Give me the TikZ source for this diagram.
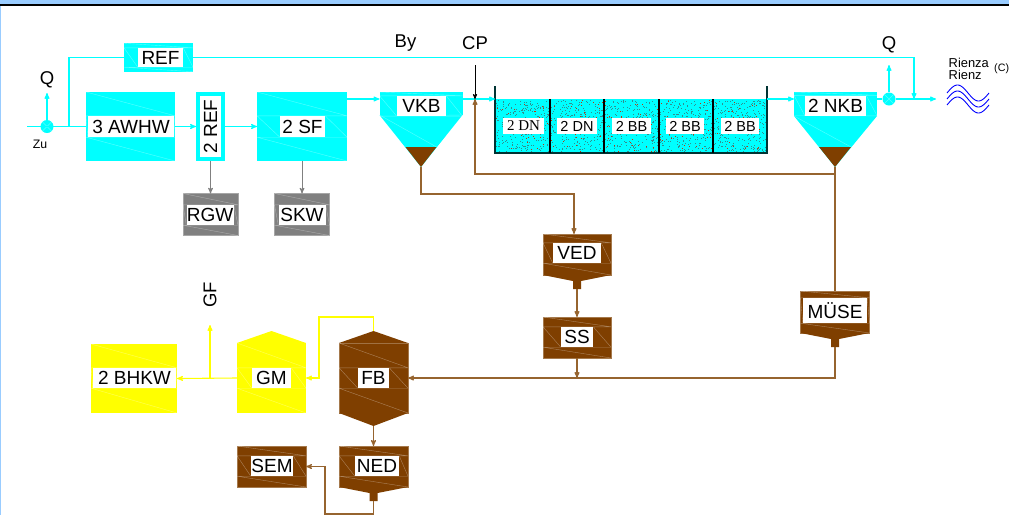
\documentclass[tikz,border=0pt]{standalone}
\usepackage{fontspec}
\setmainfont{Liberation Sans}
\newfontfamily\serifface{Liberation Serif}
\usetikzlibrary{arrows,calc}
\definecolor{frameblue}{HTML}{99CCFF}
\definecolor{water}{HTML}{00FFFF}
\definecolor{gas}{HTML}{FFFF00}
\definecolor{sludge}{HTML}{7F3F00}
\definecolor{sludgeline}{HTML}{96642F}
\definecolor{speckteal}{HTML}{2F8F8F}
\definecolor{speckred}{HTML}{C83200}
\definecolor{wall}{HTML}{003333}
\tikzstyle{block} = [rectangle, inner sep=0pt, outer sep=0pt]
\tikzstyle{waterblock} = [block, fill=water]
\tikzstyle{gasblock} = [block, fill=gas]
\tikzstyle{greyblock} = [block, fill=gray, draw=gray!70, line width=.5pt]
\tikzstyle{sludgeblock} = [block, fill=sludge, draw=sludge!70!white, line width=.5pt]
\tikzstyle{tag} = [rectangle, fill=white, inner sep=0pt, minimum height=20pt, font=\fontsize{19}{19}\selectfont]
\tikzstyle{basintag} = [tag, minimum height=16pt, font=\fontsize{14.5}{15}\selectfont]
\tikzstyle{caption} = [inner sep=0pt, font=\fontsize{18.5}{19}\selectfont]
\tikzstyle{junction} = [circle, fill=water, inner sep=0pt, minimum size=13pt]
\tikzstyle{hatchline} = [white, opacity=.35, line width=.4pt]
\tikzstyle{waterline} = [water, line width=1.1pt]
\tikzstyle{gasline} = [gas, line width=1.1pt]
\tikzstyle{greyline} = [gray, line width=1pt]
\tikzstyle{sludgepipe} = [sludgeline, line width=1.1pt]
% faint construction lines of a box, around its tag
\newcommand{\hatchbox}[2]{
  \draw[hatchline] (#1.west |- #2.north) -- (#1.east |- #2.north)
                   (#1.west |- #2.south) -- (#1.east |- #2.south)
                   (#1.north west) -- (#1.east |- #2.north)
                   (#1.west |- #2.south) -- (#1.south east)
                   (#1.west |- #2.north) -- (#2.south west)
                   (#2.north east) -- (#1.east |- #2.south);
}
% hopper bottom with its outlet
\newcommand{\hopperfoot}[1]{
  \fill[sludge] (#1.south west) -- ($(#1.south)+(-4,6)$) -- ($(#1.south)+(-4,14)$)
     -- ($(#1.south)+(4,14)$) -- ($(#1.south)+(4,6)$) -- (#1.south east) -- cycle;
  \coordinate (#1foot) at ($(#1.south)+(0,14)$);
}
\begin{document}
\begin{tikzpicture}[x=1pt,y=-1pt,>=stealth']
  \clip (0,0) rectangle (1009,515);
  \fill[white] (0,0) rectangle (1009,515);
  \fill[frameblue] (0,0) rectangle (1009,4);
  \fill[frameblue] (0,0) rectangle (1,515);
  \fill[black] (0,4) rectangle (1009,6);

  % coordinates of the water line
  \coordinate (level) at (0,99);
  \coordinate (zustart) at (27,126.5);
  \coordinate (bypass) at (69,126.5);
  \coordinate (zuq) at (47,93);
  \coordinate (refturn) at (914,99);
  \coordinate (outq) at (889,65);
  \coordinate (rienza) at (936,99);
  \coordinate (cptop) at (475,65);
  \coordinate (cpin) at (475,99);
  \coordinate (vkbapex) at (421,167);
  \coordinate (nkbapex) at (835,167);
  \coordinate (rasjoin) at (835,174);
  \coordinate (vkbturn) at (574,194);

  % inlet line
  \node[waterblock, minimum width=69pt, minimum height=28.5pt] (ref) at (158.5,57.5) {};
  \node[tag, minimum width=45pt, minimum height=19pt] (reftext) at (160.5,57.5) {REF};
  \hatchbox{ref}{reftext}
  \node[junction] (zu) at (47,126.5) {};
  \draw[hatchline] (zu.north west) -- (zu.south east) (zu.north east) -- (zu.south west);
  \node[waterblock, minimum width=89pt, minimum height=69pt] (awhw) at (130.5,126.5) {};
  \node[tag, minimum width=86pt, minimum height=21pt] (awhwtext) at (131,126.5) {3 AWHW\hspace{6pt}};
  \hatchbox{awhw}{awhwtext}
  \node[waterblock, minimum width=29pt, minimum height=69pt] (rechen) at (210.5,126.5) {};
  \node[tag, rotate=90, minimum width=61pt, minimum height=21pt] (rechentext) at (210.5,126.5) {2 REF};
  \node[waterblock, minimum width=90pt, minimum height=69pt] (sf) at (302,126.5) {};
  \node[tag, minimum width=45pt, minimum height=21pt] (sftext) at (302.5,126.5) {2 SF};
  \hatchbox{sf}{sftext}
  \node[greyblock, minimum width=55pt, minimum height=42pt] (rgw) at (210.5,214.5) {};
  \node[tag, minimum width=47pt] (rgwtext) at (210,215) {RGW};
  \hatchbox{rgw}{rgwtext}
  \node[greyblock, minimum width=55pt, minimum height=42pt] (skw) at (302,214.5) {};
  \node[tag, minimum width=47pt] (skwtext) at (302,215) {SKW};
  \hatchbox{skw}{skwtext}

  % primary clarifier
  \node[waterblock, minimum width=83pt, minimum height=23pt] (vkb) at (421,103.5) {};
  \fill[water] (vkb.south west) -- (vkbapex) -- (vkb.south east) -- cycle;
  \fill[sludge] (405.5,147) -- (vkbapex) -- (436.5,147) -- cycle;
  \node[tag, minimum width=49pt] (vkbtext) at (421.5,106) {VKB};
  \hatchbox{vkb}{vkbtext}
  \draw[hatchline] (vkb.south west) -- (436.5,147);

  % aeration basins
  \node[waterblock, minimum width=272pt, minimum height=54pt] (tank) at (631,126) {};
  \pgfmathsetseed{17}
  \foreach \i in {1,...,1300}
    \fill[speckteal] ({495+271*rnd},{100+52*rnd}) rectangle +(1,1);
  \foreach \i in {1,...,170}
    \fill[speckred] ({495+271*rnd},{100+52*rnd}) rectangle +(1,1);
  \draw[wall, line width=1.1pt] ($(tank.north west)+(0,-13)$) -- (tank.south west)
       -- (tank.south east) -- ($(tank.north east)+(0,-13)$);
  \foreach \xdiv in {550,604,659,713}
    \draw[black, line width=1.1pt] (\xdiv,99) -- (\xdiv,153);
  \node[basintag, minimum width=41pt, font=\serifface\fontsize{15}{15}\selectfont] (dn1) at (523.5,126) {2 DN};
  \node[basintag, minimum width=40pt] (dn2) at (577,126) {2 DN};
  \node[basintag, minimum width=39pt] (bb1) at (631.5,126) {2 BB};
  \node[basintag, minimum width=38pt] (bb2) at (685,126) {2 BB};
  \node[basintag, minimum width=38pt] (bb3) at (740,126) {2 BB};

  % final clarifier
  \node[waterblock, minimum width=83pt, minimum height=24pt] (nkb) at (835.5,104) {};
  \fill[water] (nkb.south west) -- (nkbapex) -- (nkb.south east) -- cycle;
  \fill[sludge] (819,147) -- (nkbapex) -- (851,147) -- cycle;
  \node[tag, minimum width=61pt] (nkbtext) at (835.5,105.5) {2 NKB};
  \hatchbox{nkb}{nkbtext}
  \draw[hatchline] (nkb.south west) -- (851,147);
  \node[junction] (out) at (889,99) {};
  \draw[hatchline] (out.north west) -- (out.south east) (out.north east) -- (out.south west);

  % sludge line
  \node[sludgeblock, minimum width=68pt, minimum height=41pt] (ved) at (577,254.5) {};
  \hopperfoot{ved}
  \node[tag, minimum width=48pt] (vedtext) at (577,253) {VED};
  \hatchbox{ved}{vedtext}
  \node[sludgeblock, minimum width=68pt, minimum height=41pt] (ss) at (577,337.5) {};
  \node[tag, minimum width=32pt] (sstext) at (577,337) {SS};
  \hatchbox{ss}{sstext}
  \node[sludgeblock, minimum width=69pt, minimum height=42pt] (muse) at (835,312) {};
  \hopperfoot{muse}
  \node[tag, minimum width=64pt, minimum height=25pt] (musetext) at (835,310.5) {MÜSE};
  \hatchbox{muse}{musetext}
  \node[sludgeblock, minimum width=69pt, minimum height=70pt] (fb) at (373.5,378) {};
  \coordinate (fbtop) at (373.5,331);
  \coordinate (fbbottom) at (373.5,426);
  \fill[sludge] (fb.north west) -- (fbtop) -- (fb.north east) -- cycle;
  \fill[sludge] (fb.south west) -- (fbbottom) -- (fb.south east) -- cycle;
  \node[tag, minimum width=31pt] (fbtext) at (373.5,378) {FB};
  \hatchbox{fb}{fbtext}
  \node[sludgeblock, minimum width=69pt, minimum height=41pt] (ned) at (373.5,466.5) {};
  \hopperfoot{ned}
  \node[tag, minimum width=44pt] (nedtext) at (377,466) {NED};
  \hatchbox{ned}{nedtext}
  \node[sludgeblock, minimum width=69pt, minimum height=41pt] (sem) at (271.5,466.5) {};
  \node[tag, minimum width=42pt] (semtext) at (272,466) {SEM};
  \hatchbox{sem}{semtext}
  \coordinate (nedturn) at (325,514);

  % gas line
  \node[gasblock, minimum width=69pt, minimum height=70pt] (gm) at (271.5,378) {};
  \coordinate (gmtop) at (271.5,331);
  \fill[gas] (gm.north west) -- (gmtop) -- (gm.north east) -- cycle;
  \node[tag, minimum width=39pt] (gmtext) at (271.5,378) {GM};
  \hatchbox{gm}{gmtext}
  \node[gasblock, minimum width=86pt, minimum height=69pt] (bhkw) at (134,378.5) {};
  \node[tag, minimum width=83pt] (bhkwtext) at (134.5,378) {2 BHKW};
  \hatchbox{bhkw}{bhkwtext}
  \coordinate (gfjoin) at (210,378);
  \coordinate (gftop) at (210,325);
  \coordinate (gasturn) at (319,317);

  % water connectors
  \draw[waterline] (zustart) -- (awhw.west);
  \draw[waterline, ->] (zu) -- (zuq);
  \draw[waterline] (bypass) -- (bypass |- ref.west) -- (ref.west);
  \draw[waterline, ->] (ref.east) -- (refturn |- ref.east) -- (refturn);
  \draw[waterline, ->] (awhw.east) -- (rechen.west);
  \draw[waterline, ->] (rechen.east) -- (sf.west);
  \draw[waterline, ->] (sf.east |- level) -- (vkb.west |- level);
  \draw[waterline, ->] (vkb.east |- level) -- (tank.north west);
  \draw[waterline, ->] (tank.north east) -- (nkb.west |- level);
  \draw[waterline] (nkb.east |- level) -- (out);
  \draw[waterline, ->] (out) -- (outq);
  \draw[waterline, ->] (out) -- (rienza);

  % screenings and precipitant
  \draw[greyline, ->] (rechen.south) -- (rgw.north);
  \draw[greyline, ->] (sf.south) -- (skw.north);
  \draw[black, line width=.8pt, ->] (cptop) -- (cpin);

  % sludge connectors
  \draw[sludgepipe, ->] (rasjoin) -- (cpin |- rasjoin) -- (cpin);
  \draw[sludgepipe] (nkbapex) -- (muse.north);
  \draw[sludgepipe, ->] (vkbapex) -- (vkbapex |- vkbturn) -- (vkbturn) -- (vkbturn |- ved.north);
  \draw[sludgepipe, ->] (vedfoot) -- (ss.north);
  \draw[sludgepipe, ->] (ss.south) -- (ss.south |- fb.east);
  \draw[sludgepipe, ->] (musefoot) -- (musefoot |- fb.east) -- (fb.east);
  \draw[sludgepipe, ->] (fbbottom) -- (ned.north);
  \draw[sludgepipe, ->] (nedfoot) -- (nedfoot |- nedturn) -- (nedturn) -- (nedturn |- sem.east) -- (sem.east);

  % gas connectors
  \draw[gasline, ->] (fbtop) -- (fbtop |- gasturn) -- (gasturn) -- (gasturn |- gm.east) -- (gm.east);
  \draw[gasline, ->] (gm.west) -- (bhkw.east);
  \draw[gasline, ->] (gfjoin) -- (gftop);

  % captions
  \node[caption] (qin) at (47,80) {Q};
  \node[caption, font=\fontsize{12.3}{13}\selectfont] (zutext) at (40,144) {Zu};
  \node[caption] (bytext) at (405.5,43) {By};
  \node[caption] (cptext) at (475,43.5) {CP};
  \node[caption] (qout) at (889,45) {Q};
  \node[caption, rotate=90] (gftext) at (210,295) {GF};
  \node[caption, font=\fontsize{12.9}{13}\selectfont, anchor=west] (rienza1) at (948.5,62.5) {Rienza};
  \node[caption, font=\fontsize{12.9}{13}\selectfont, anchor=west] (rienza2) at (948.5,74.5) {Rienz};
  \node[caption, font=\fontsize{10.7}{11}\selectfont, anchor=west] (rienzaclass) at (994,69) {(C)};

  % river
  \foreach \ybase in {93,99,105}
    \draw[blue, line width=.9pt] plot[domain=947:989, samples=40, smooth]
      (\x, {\ybase-8*sin(360*(\x-947)/42)});
\end{tikzpicture}
\end{document}
